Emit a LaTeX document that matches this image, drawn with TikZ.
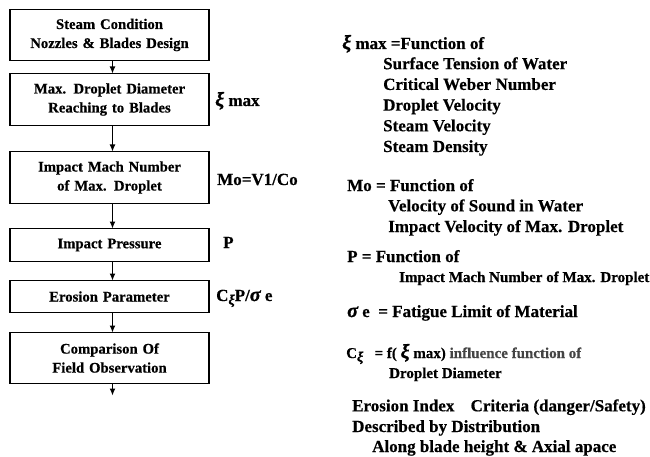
\documentclass[tikz,border=0pt]{standalone}
\usepackage{fontspec}
\setmainfont{Liberation Serif}[BoldFeatures={FakeBold=0.4},BoldItalicFeatures={FakeBold=1.2}]
\usepackage{xcolor}
\usetikzlibrary{shapes,arrows,arrows.meta,positioning,calc}
\definecolor{grayink}{HTML}{444444}
\newcommand{\gxi}{{\fontsize{20}{20}\selectfont\itshape ξ}}
\newcommand{\gsig}{{\fontsize{20}{20}\selectfont\itshape σ}}
\newcommand{\subxi}{\raisebox{-3.5pt}{\fontsize{14}{14}\selectfont\itshape ξ}}

\begin{document}
\begin{tikzpicture}[
    x=1pt, y=-1pt,
    box/.style={rectangle, draw=black, line width=1.4pt, text width=199pt,
                inner xsep=0pt, inner ysep=0pt, outer sep=0pt, align=center,
                minimum height=51pt, font=\fontsize{14.7}{19}\selectfont\bfseries},
    arrow/.style={-{Latex[length=7pt,width=6pt]}, line width=1.1pt},
    lbl/.style={anchor=base west, inner sep=0pt, font=\fontsize{17}{21}\selectfont\bfseries},
    note/.style={anchor=base west, inner sep=0pt, align=left,
                 font=\fontsize{17}{20.7}\selectfont\bfseries},
    small/.style={anchor=base west, inner sep=0pt, align=left,
                  font=\fontsize{15}{20}\selectfont\bfseries},
  ]
    \useasboundingbox (0,0) rectangle (650,457);

    % flow chart
    \node[box] (steam) at (109.5,35) {Steam Condition\\Nozzles \& Blades Design};
    \node[box, minimum height=52pt, below=13pt of steam] (diam)  {Max. Droplet Diameter\\Reaching to Blades};
    \node[box, minimum height=52pt, below=26pt of diam]  (mach)  {Impact Mach Number\\of Max. Droplet};
    \node[box, minimum height=33pt, below=25pt of mach]  (press) {Impact Pressure};
    \node[box, minimum height=32pt, below=19pt of press] (eros)  {Erosion Parameter};
    \node[box, below=20pt of eros] (field) {Comparison Of\\Field Observation};
    \coordinate (out) at ([xshift=3pt,yshift=-12pt]field.south);

    \draw[arrow] ([xshift=3pt]steam.south) -- ([xshift=3pt]diam.north);
    \draw[arrow] ([xshift=3pt]diam.south)  -- ([xshift=3pt]mach.north);
    \draw[arrow] ([xshift=3pt]mach.south)  -- ([xshift=3pt]press.north);
    \draw[arrow] ([xshift=3pt]press.south) -- ([xshift=3pt]eros.north);
    \draw[arrow] ([xshift=3pt]eros.south)  -- ([xshift=3pt]field.north);
    \draw[arrow] ([xshift=3pt]field.south) -- (out);

    % symbols beside the boxes
    \node[lbl] (ximax) at (215,106) {\gxi\ max};
    \node[lbl] (mo)    at (217,185) {Mo=V1/Co};
    \node[lbl] (p)     at (223,248) {P};
    \node[lbl] (cp)    at (216,301) {C\subxi P/\gsig\ e};

    % explanations (multi-line nodes sit on their last baseline)
    \node[note] (xifun) at (342,49) {\gxi\ max =Function of};
    \node[note] (xilist) at (383,152) {Surface Tension of Water\\Critical Weber Number\\Droplet Velocity\\Steam Velocity\\Steam Density};
    \node[note] (mofun) at (347,191) {Mo = Function of};
    \node[note] (molist) at (388,232) {Velocity of Sound in Water\\Impact Velocity of Max. Droplet};
    \node[note] (pfun) at (347,262) {P = Function of};
    \node[small] (plist) at (399,282) {Impact Mach Number of Max. Droplet};
    \node[note] (sig) at (347,317) {\gsig\ e\ \ = Fatigue Limit of Material};
    \node[small] (cxi) at (346,358) {C\subxi\ \ \ = f( \gxi\ max) \textcolor{grayink}{influence function of}};
    \node[small] (cdia) at (389,378) {Droplet Diameter};
    \node[note] (idx) at (352,432) {Erosion Index\hspace{12pt} Criteria (danger/Safety)\\Described by Distribution};
    \node[note] (along) at (372,452) {Along blade height \& Axial apace};
\end{tikzpicture}
\end{document}
